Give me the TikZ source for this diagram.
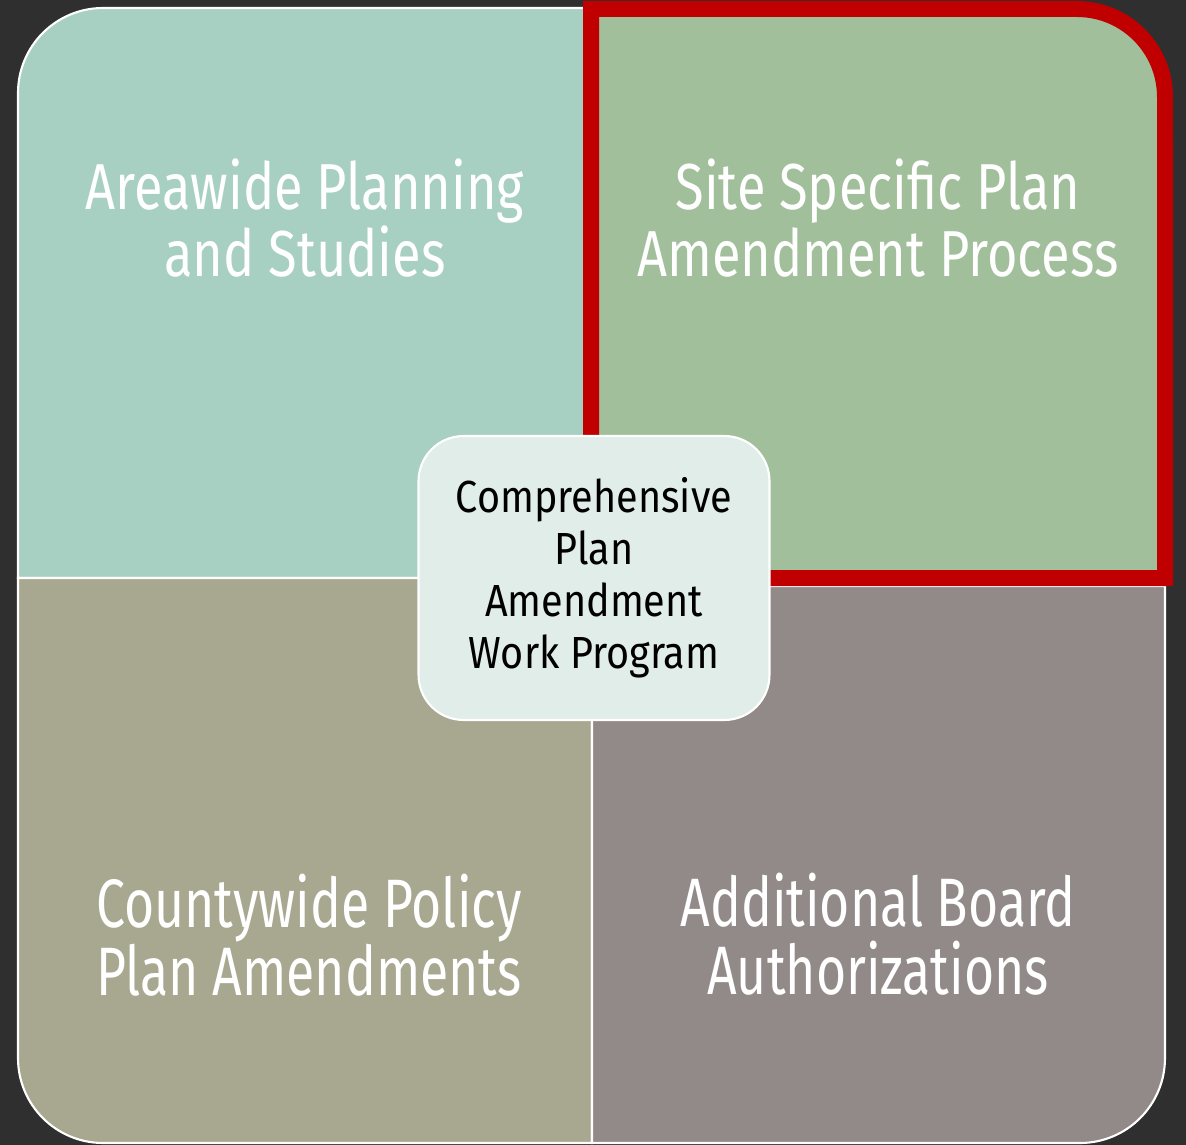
\documentclass[tikz,border=0pt]{standalone}
\usepackage{fontspec}
\setmainfont{Fira Sans}[FakeStretch=0.805]
\newfontfamily\lowfont{Fira Sans}[FakeStretch=0.755]
\newfontfamily\hubfont{Fira Sans}[FakeStretch=0.88]
\usepackage{tikz}
\definecolor{areateal}{HTML}{A7D0C2}
\definecolor{sitegreen}{HTML}{A1BF9A}
\definecolor{policytan}{HTML}{A8A890}
\definecolor{boardgray}{HTML}{928A88}
\definecolor{markred}{HTML}{C00000}
\definecolor{hubfill}{HTML}{E1EDE9}
\definecolor{photodark}{HTML}{2F2F2F}
\tikzset{quad/.style={draw=white,line width=1.2pt},
	quad label/.style={text=white,align=center,anchor=base,font=\fontsize{37}{38.7}\selectfont},
	low label/.style={quad label,font=\lowfont\fontsize{39}{38.7}\selectfont},
	main node/.style={rectangle,rounded corners=0.9cm,fill=hubfill,draw=white,line width=1.2pt,
		minimum width=7.02cm,minimum height=5.68cm,inner sep=0pt,align=center,
		font=\hubfont\fontsize{25.6}{29.6}\selectfont},
}

\begin{document}
\begin{tikzpicture}[x=0.02cm,y=-0.02cm]
			
			%% backdrop
			\fill[photodark] (0,0) rectangle (1186,1145);
			\useasboundingbox (0,0) rectangle (1186,1145);
			
			%% the four quarters
			\path[quad,fill=areateal] (590,578) -- (18,578) -- (18,93)
				arc[start angle=180,end angle=90,radius=1.7cm] -- (590,8) -- cycle;
			\path[quad,fill=policytan] (592,578) -- (18,578) -- (18,1058)
				arc[start angle=180,end angle=270,radius=1.7cm] -- (592,1143) -- cycle;
			\path[quad,fill=boardgray] (592,586) -- (592,1143) -- (1080,1143)
				arc[start angle=270,end angle=360,radius=1.7cm] -- (1165,586) -- cycle;
			\path[draw=markred,line width=0.32cm,fill=sitegreen] (591,578) -- (591,9) -- (1077,9)
				arc[start angle=90,end angle=0,radius=1.76cm] -- (1165,578) -- cycle;
			
			%% labels sit on the baseline of their last line
			\node[quad label] (1) at (305,277) {Areawide Planning\\and Studies};
			\node[quad label] (2) at (878,277) {Site Specific Plan\\Amendment Process};
			\node[low label] (3) at (309,995) {Countywide Policy\\Plan Amendments};
			\node[low label] (4) at (878,994) {Additional Board\\Authorizations};
			
			%% work program in the middle
			\node[main node] (0) at (594,578) {Comprehensive\\Plan\\Amendment\\Work Program};
			\end{tikzpicture}
\end{document}
